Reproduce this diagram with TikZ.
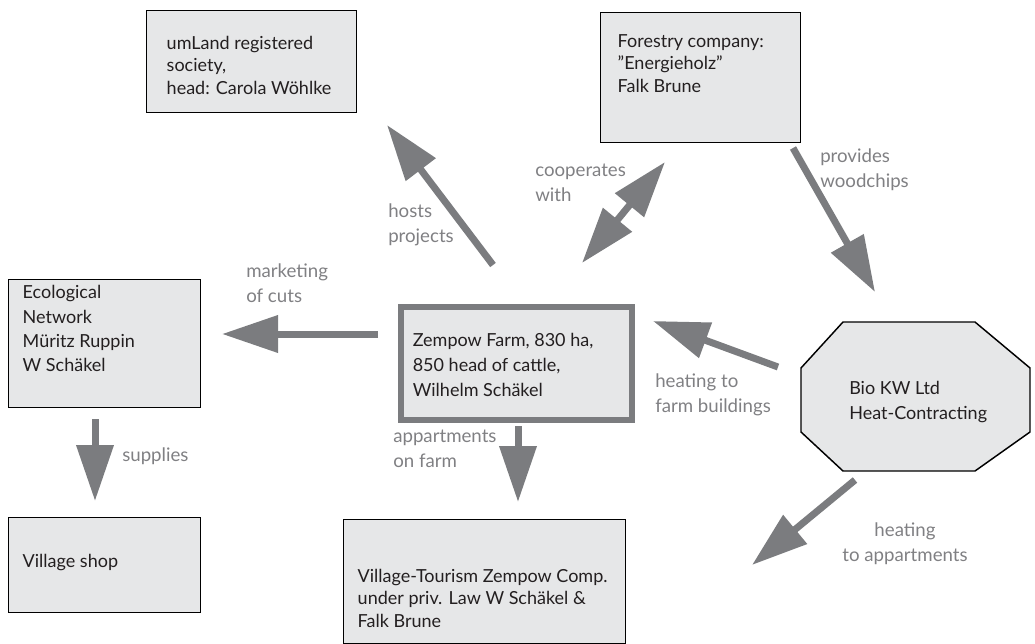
\documentclass[tikz,border=0pt]{standalone}
\usepackage{fontspec}
\setmainfont{Lato}
\usetikzlibrary{arrows.meta}
\definecolor{boxfill}{HTML}{E6E7E8}
\definecolor{arrowgray}{HTML}{7B7C7F}
\definecolor{labelgray}{HTML}{808083}
\definecolor{textdark}{HTML}{231F20}
\newlength{\pxu}\setlength{\pxu}{0.75pt}
% width, height, left pad, top pad, baselineskip, text
\newcommand{\bx}[6]{\begin{minipage}[c][#2\pxu][t]{#1\pxu}\fontsize{13.5pt}{#5\pxu}\selectfont\vspace*{#4\pxu}\raggedright\leftskip=#3\pxu\strut #6\end{minipage}}
\begin{document}
\begin{tikzpicture}[x=0.75pt,y=-0.75pt,
  every node/.style={font=\fontsize{13.5pt}{18pt}\selectfont},
  box/.style={draw=black, line width=1.1pt, fill=boxfill, inner sep=0pt, anchor=north west, text=textdark},
  farmbox/.style={draw=arrowgray, line width=4.2pt, fill=boxfill, inner sep=0pt, anchor=north west, text=textdark},
  flow/.style={draw=arrowgray, line width=5.25pt, -{Triangle[length=42pt,width=27pt]}},
  bothflow/.style={draw=arrowgray, line width=5.25pt, {Triangle[length=42pt,width=27pt]}-{Triangle[length=42pt,width=27pt]}},
  lbl/.style={text=labelgray, align=left, anchor=west, inner sep=0pt, font=\fontsize{14pt}{19pt}\selectfont}
]
\useasboundingbox (0,0) rectangle (1035,643);

% boxes
\node[box] (umland) at (146,10) {\bx{210}{102}{20}{23}{22.5}{umLand registered\\society,\\head: Carola Wöhlke}};
\node[box] (forest) at (600,12) {\bx{200}{130}{17}{19}{22.5}{Forestry company:\\”Energieholz”\\Falk Brune}};
\node[box] (eco) at (8,279) {\bx{192}{128}{14}{2}{24.3}{Ecological\\Network\\Müritz Ruppin\\W Schäkel}};
\node[box] (shop) at (8,517) {\bx{192}{95}{14}{34}{23}{Village shop}};
\node[farmbox] (farm) at (398,304) {\bx{231}{113}{12}{22.5}{25}{Zempow Farm, 830 ha,\\850 head of cattle,\\Wilhelm Schäkel}};
\node[box] (tour) at (343,519) {\bx{282}{124}{14}{47}{22.5}{Village-Tourism Zempow Comp.\\under priv. Law W Schäkel \&\\Falk Brune}};
\draw[draw=black, line width=1.1pt, fill=boxfill] (843,322) -- (975,322) -- (1030,368) -- (1030,432) -- (975,471) -- (843,471) -- (801,432) -- (801,368) -- cycle;
\node[text=textdark, align=left, anchor=west, inner sep=0pt, font=\fontsize{13.5pt}{19pt}\selectfont] (bio) at (849,402) {Bio KW Ltd\\Heat-Contracting};

% arrow end points
\coordinate (a1s) at (493,265); \coordinate (a1e) at (387,125);
\coordinate (a2s) at (582,263); \coordinate (a2e) at (665,162);
\coordinate (a3s) at (793,148); \coordinate (a3e) at (875,292);
\coordinate (a4s) at (378,334); \coordinate (a4e) at (222,334);
\coordinate (a5s) at (778,367); \coordinate (a5e) at (653,321);
\coordinate (a6s) at (518,426); \coordinate (a6e) at (518,502);
\coordinate (a7s) at (95,419);  \coordinate (a7e) at (95,501);
\coordinate (a8s) at (855,480); \coordinate (a8e) at (752,565);

\draw[flow] (a1s) -- (a1e);
\draw[bothflow] (a2s) -- (a2e);
\draw[flow] (a3s) -- (a3e);
\draw[flow] (a4s) -- (a4e);
\draw[flow] (a5s) -- (a5e);
\draw[flow] (a6s) -- (a6e);
\draw[flow] (a7s) -- (a7e);
\draw[flow] (a8s) -- (a8e);

% labels
\node[lbl] (l1) at (388,225) {hosts\\projects};
\node[lbl] (l2) at (535,183) {cooperates\\with};
\node[lbl] (l3) at (820,170) {provides\\woodchips};
\node[lbl] (l4) at (246,283) {marketing\\of cuts};
\node[lbl] (l5) at (655,395) {heating to\\farm buildings};
\node[lbl] (l6) at (393,449) {appartments\\on farm};
\node[lbl] (l7) at (122,456) {supplies};
\node[lbl, align=center, anchor=center] (l8) at (905,544) {heating\\to appartments};
\end{tikzpicture}
\end{document}
